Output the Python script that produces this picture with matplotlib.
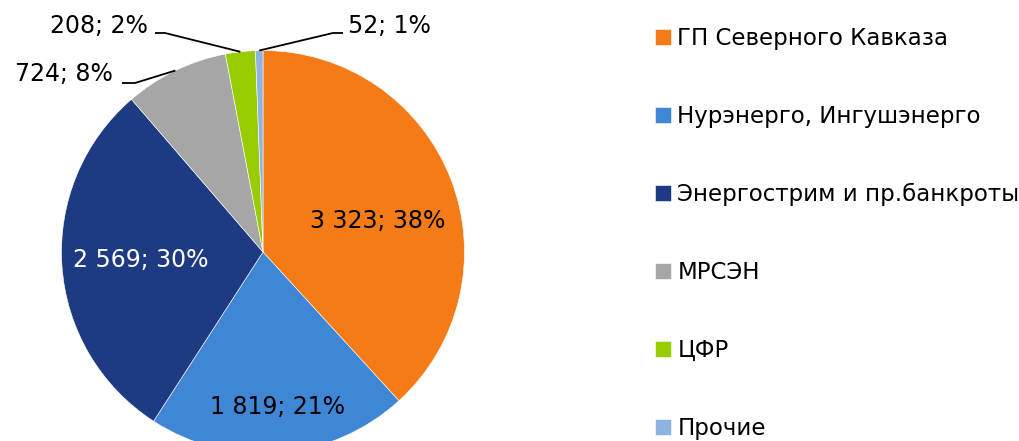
import numpy as np
import matplotlib.pyplot as plt

# data
names = ['ГП Северного Кавказа', 'Нурэнерго, Ингушэнерго', 'Энергострим и пр.банкроты',
         'МРСЭН', 'ЦФР', 'Прочие']
values = [3323, 1819, 2569, 724, 208, 52]
colors = ['#F47B16', '#3F87D5', '#1E3A83', '#A6A6A6', '#99CC00', '#8DB4E2']

W, H = 1019, 441
plt.rcParams['font.family'] = ['DejaVu Sans']

fig = plt.figure(figsize=(W / 100, H / 100), dpi=100)
ax = fig.add_axes([0, 0, 1, 1])

cx, cy, R = 263, 252, 201.5   # pie centre, pixel coords (y from top)

def px(x, y):
    return x, H - y

wedges, _ = ax.pie(values, colors=colors, startangle=90, counterclock=False,
                   center=px(cx, cy), radius=R,
                   wedgeprops=dict(edgecolor='white', linewidth=0.4))
ax.set_xlim(0, W)
ax.set_ylim(0, H)
ax.set_aspect('auto')
ax.axis('off')

total = sum(values)

def fmt(v):
    s = f'{v:,}'.replace(',', ' ')
    return f'{s}; {round(v / total * 100)}%'

fs = 17
# inside labels: radial distance (fraction of R), angle shift (deg), colour
inner = {0: (0.59, -6, 'black'), 1: (0.77, 0.5, 'black'), 2: (0.61, 0, 'white')}
for i, (dist, shift, col) in inner.items():
    w = wedges[i]
    a = np.deg2rad((w.theta1 + w.theta2) / 2 + shift)
    x = w.center[0] + dist * R * np.cos(a)
    y = w.center[1] + dist * R * np.sin(a)
    ax.text(x, y, fmt(values[i]), ha='center', va='center', fontsize=fs, color=col)

# outside labels with leader lines: text x, y, ha, elbow x, line end x, line y
outer = {3: (113, 74, 'right', 135, 122, 83),
         4: (148, 26, 'right', 165, 155, 33),
         5: (348, 26, 'left', 333, 343, 33)}
for i, (tx, ty, ha, ex, lx, ly) in outer.items():
    w = wedges[i]
    a = np.deg2rad((w.theta1 + w.theta2) / 2)
    x = w.center[0] + R * np.cos(a)
    y = w.center[1] + R * np.sin(a)
    ax.plot([x, px(ex, ly)[0], px(lx, ly)[0]], [y, px(ex, ly)[1], px(lx, ly)[1]],
            color='black', lw=1.3, solid_capstyle='butt')
    ax.text(*px(tx, ty), fmt(values[i]), ha=ha, va='center', fontsize=fs)

leg = ax.legend(wedges, names, loc='upper left', bbox_to_anchor=(655 / W, 1 - 27 / H),
                frameon=False, fontsize=16.5, handlelength=0.68, handleheight=0.68,
                handletextpad=0.3, labelspacing=2.4, borderpad=0, borderaxespad=0)

fig.savefig('out.png', dpi=100)
